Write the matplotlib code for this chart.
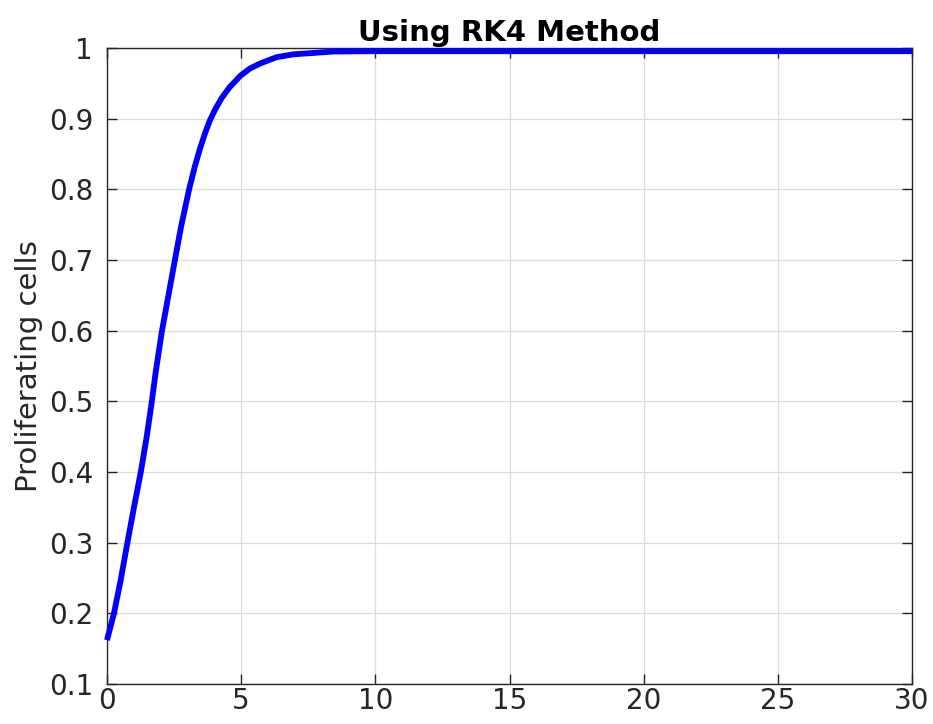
import matplotlib
matplotlib.use("Agg")
import matplotlib.pyplot as plt

# Values
t_values = [0.0, 0.26, 0.51, 0.76, 1.01, 1.26, 1.48, 1.66, 1.81, 2.04, 2.29,
            2.53, 2.76, 3.06, 3.27, 3.47, 3.65, 3.84, 4.03, 4.27, 4.58, 4.98,
            5.33, 5.70, 6.32, 6.94, 7.69, 8.43, 10.0, 15.0, 20.0, 25.0, 30.0]
proliferating = [0.162, 0.200, 0.247, 0.300, 0.351, 0.400, 0.450, 0.497, 0.540,
                 0.598, 0.650, 0.700, 0.747, 0.800, 0.832, 0.858, 0.879, 0.898,
                 0.913, 0.929, 0.945, 0.961, 0.971, 0.978, 0.987, 0.991, 0.993,
                 0.995, 0.9955, 0.9955, 0.9955, 0.9955, 0.9955]
x_ticks = [0, 5, 10, 15, 20, 25, 30]
y_ticks = [0.1, 0.2, 0.3, 0.4, 0.5, 0.6, 0.7, 0.8, 0.9, 1.0]
y_tick_labels = ["0.1", "0.2", "0.3", "0.4", "0.5", "0.6", "0.7", "0.8", "0.9", "1"]

plt.rcParams['font.family'] = ['DejaVu Sans']

fig = plt.figure(figsize=(9.33, 7.24), dpi=100)
ax = fig.add_axes([107/933, 40/724, (912-107)/933, (684-48)/724])

ax.plot(t_values, proliferating, color=(0, 0, 1), linewidth=4.2,
        solid_joinstyle='round', solid_capstyle='butt', clip_on=False, zorder=3)

ax.set_xlim(0, 30)
ax.set_ylim(0.1, 1.0)
ax.set_xticks(x_ticks)
ax.set_yticks(y_ticks)
ax.set_yticklabels(y_tick_labels)
ax.grid(True, color='#dcdcdc', linewidth=0.9)
ax.set_axisbelow(True)

dark = '#262626'
for s in ax.spines.values():
    s.set_color(dark)
    s.set_linewidth(1.0)
ax.tick_params(direction='in', length=7, width=1.0, colors=dark,
               labelsize=20, top=True, right=True)
ax.tick_params(axis='x', pad=2)
ax.tick_params(axis='y', pad=10)
for lbl in ax.get_xticklabels() + ax.get_yticklabels():
    lbl.set_color(dark)

ax.set_title("Using RK4 Method", fontsize=21, fontweight='bold', color='black', pad=5)
ax.set_ylabel("Proliferating cells", fontsize=21, color=dark, labelpad=4)

fig.savefig("out.png", dpi=100, facecolor='white')
